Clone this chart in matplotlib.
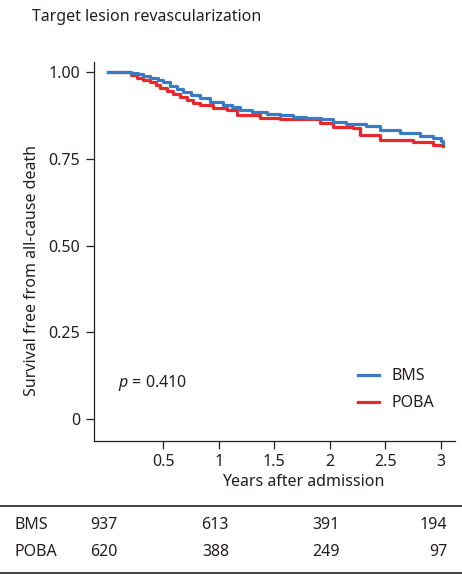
import matplotlib.pyplot as plt
from matplotlib.lines import Line2D

plt.rcParams['font.family'] = ['Noto Sans', 'DejaVu Sans']
plt.rcParams['font.size'] = 11.5
plt.rcParams['mathtext.fontset'] = 'custom'
plt.rcParams['mathtext.it'] = 'Noto Sans:italic'

# Kaplan-Meier step points (years, survival)
bms_t = [0.0, 0.21, 0.27, 0.32, 0.38, 0.45, 0.50, 0.56, 0.62, 0.68, 0.75, 0.83,
         0.92, 1.04, 1.12, 1.19, 1.30, 1.43, 1.55, 1.67, 1.79, 1.92, 2.03,
         2.15, 2.33, 2.45, 2.63, 2.81, 2.93, 3.00, 3.02]
bms_s = [1.000, 0.996, 0.993, 0.988, 0.983, 0.977, 0.970, 0.960, 0.952, 0.943,
         0.935, 0.925, 0.914, 0.905, 0.898, 0.890, 0.884, 0.879, 0.875, 0.871,
         0.868, 0.864, 0.857, 0.849, 0.845, 0.833, 0.824, 0.816, 0.811, 0.800,
         0.795]

poba_t = [0.0, 0.21, 0.26, 0.32, 0.38, 0.43, 0.47, 0.53, 0.59, 0.65, 0.71, 0.77,
          0.83, 0.95, 1.07, 1.16, 1.37, 1.55, 1.79, 1.91, 2.03, 2.21, 2.27,
          2.45, 2.75, 2.93, 3.02]
poba_s = [1.000, 0.992, 0.984, 0.978, 0.972, 0.962, 0.953, 0.945, 0.936, 0.928,
          0.919, 0.912, 0.905, 0.897, 0.890, 0.876, 0.868, 0.866, 0.866, 0.852,
          0.842, 0.839, 0.820, 0.804, 0.799, 0.790, 0.787]

# Numbers at risk
risk_times = [0, 1, 2, 3]
bms_risk = [937, 613, 391, 194]
poba_risk = [620, 388, 249, 97]

blue = '#3a7cc3'
red = '#e8282b'
ink = '#231f20'

W, H = 462, 575
fig = plt.figure(figsize=(W / 100, H / 100), dpi=100)
ax = fig.add_axes([94 / W, 1 - 441 / H, 361 / W, 379 / H])

ax.step(bms_t, bms_s, where='post', color=blue, lw=2.3, label='BMS', zorder=3)
ax.step(poba_t, poba_s, where='post', color=red, lw=2.3, label='POBA', zorder=2)

ax.set_xlim(-0.126, 3.13)
ax.set_ylim(-0.063, 1.029)
ax.set_xticks([0.5, 1, 1.5, 2, 2.5, 3])
ax.set_xticklabels(['0.5', '1', '1.5', '2', '2.5', '3'])
ax.set_yticks([0, 0.25, 0.5, 0.75, 1.0])
ax.set_yticklabels(['0', '0.25', '0.50', '0.75', '1.00'])
for side in ['top', 'right']:
    ax.spines[side].set_visible(False)
for side in ['left', 'bottom']:
    ax.spines[side].set_color(ink)
    ax.spines[side].set_linewidth(0.9)
ax.tick_params(colors=ink, length=6, width=0.9, labelsize=11.5, pad=3)
ax.tick_params(axis='y', pad=4)

ax.set_xlabel('Years after admission', color=ink)
ax.xaxis.set_label_coords(0.579, -0.088)
fig.text(32 / W, 1 - 271 / H, 'Survival free from all-cause death', color=ink,
         rotation=90, ha='center', va='center')

ax.text(0.092, 0.092, r'$p$ = 0.410', color=ink, va='baseline')

leg = ax.legend(loc='upper left', bbox_to_anchor=(0.731, 0.192), frameon=False,
                borderpad=0, borderaxespad=0, handlelength=1.35,
                handletextpad=0.75, labelspacing=0.7)
for txt in leg.get_texts():
    txt.set_color(ink)

fig.text(32 / W, 1 - 17 / H, 'Target lesion revascularization', color=ink, va='center')

# numbers-at-risk table below the plot
for yline in [506, 573]:
    fig.add_artist(Line2D([0, 1], [1 - yline / H] * 2, color='#333333', lw=1.3))
trans = ax.get_xaxis_transform()
for name, counts, yrow in [('BMS', bms_risk, 525), ('POBA', poba_risk, 552)]:
    fig.text(15 / W, 1 - yrow / H, name, color=ink, va='center')
    ytxt = (441 - yrow) / 379
    for t, n in zip(risk_times, counts):
        xpos = min(t + 0.09, 3.06)
        ax.text(xpos, ytxt, str(n), transform=trans, ha='right', va='center',
                color=ink, clip_on=False)

fig.savefig('out.png', dpi=100)
